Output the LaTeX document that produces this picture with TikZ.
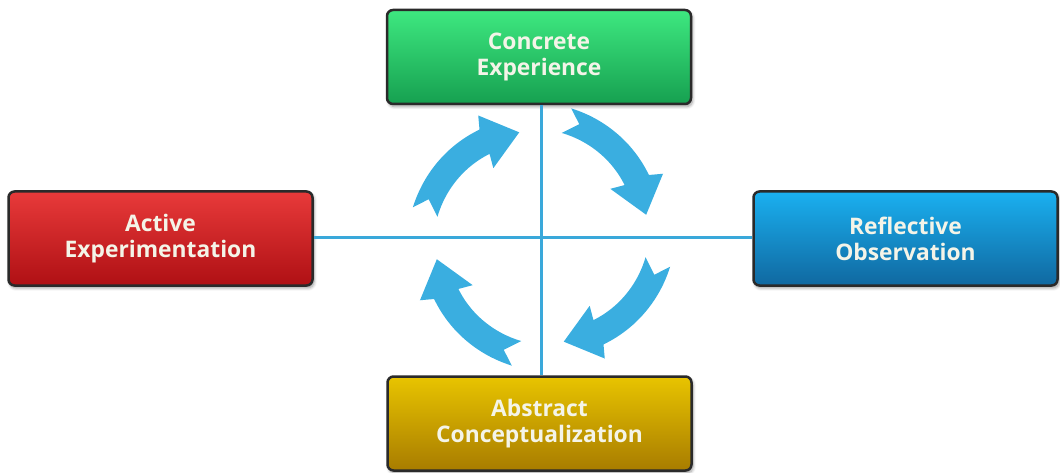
\documentclass[tikz,border=0pt]{standalone}
\usepackage{fontspec}
\setmainfont{Open Sans}
\usetikzlibrary{shadows.blur}
\definecolor{grtop}{HTML}{3EE880}
\definecolor{grbot}{HTML}{16A050}
\definecolor{rdtop}{HTML}{E83A3A}
\definecolor{rdbot}{HTML}{AF1014}
\definecolor{bltop}{HTML}{1AB0F0}
\definecolor{blbot}{HTML}{1068A0}
\definecolor{gdtop}{HTML}{E8C400}
\definecolor{gdbot}{HTML}{A87C00}
\definecolor{boxline}{HTML}{2A2A2A}
\definecolor{txtcol}{HTML}{F4F4E8}
\definecolor{arrcol}{HTML}{3AAEE0}
\definecolor{axcol}{HTML}{3AA8DA}
\tikzset{
  stagebox/.style={draw=boxline, line width=2.5pt, rounded corners=6pt,
    minimum width=304pt, minimum height=94pt, inner sep=0pt,
    align=center, text=txtcol,
    font=\fontsize{22.8}{26}\selectfont\bfseries,
    blur shadow={shadow xshift=1.5pt, shadow yshift=-2.5pt, shadow blur steps=6, shadow blur radius=3pt, shadow opacity=40}},
  axisline/.style={draw=axcol, line width=3pt},
  cyclearrow/.style={fill=arrcol}
}
\begin{document}
\begin{tikzpicture}[x=1pt,y=1pt]
\useasboundingbox (0,0) rectangle (1060,472);
\coordinate (C) at (541.5,235);
\node[stagebox, top color=grtop, bottom color=grbot] (CE) at (539,415) {Concrete\\Experience};
\node[stagebox, top color=rdtop, bottom color=rdbot] (AE) at (160.5,233.5) {Active\\Experimentation};
\node[stagebox, top color=bltop, bottom color=blbot] (RO) at (905.5,233.5) {Reflective\\Observation};
\node[stagebox, top color=gdtop, bottom color=gdbot] (AC) at (539.5,48.5) {Abstract\\Conceptualization};
\draw[axisline] (CE.south -| C) -- (AC.north -| C);
\draw[axisline] (AE.east |- C) -- (RO.west |- C);
\foreach \rot in {0,-90,-180,-270}{
  \begin{scope}[shift={(C)}, rotate=\rot]
    \fill[cyclearrow]
      plot[domain=167:120, samples=24, variable=\a]
        ({(124+(\a-120)*8/47)*cos(\a)}, {(124+(\a-120)*8/47)*sin(\a)})
      -- (117.5:137) -- (102:107) -- (125:84)
      -- plot[domain=122:169, samples=24, variable=\a]
        ({(98+(\a-122)*8/47)*cos(\a)}, {(98+(\a-122)*8/47)*sin(\a)})
      -- (161.5:119) -- cycle;
  \end{scope}
}
\end{tikzpicture}
\end{document}
